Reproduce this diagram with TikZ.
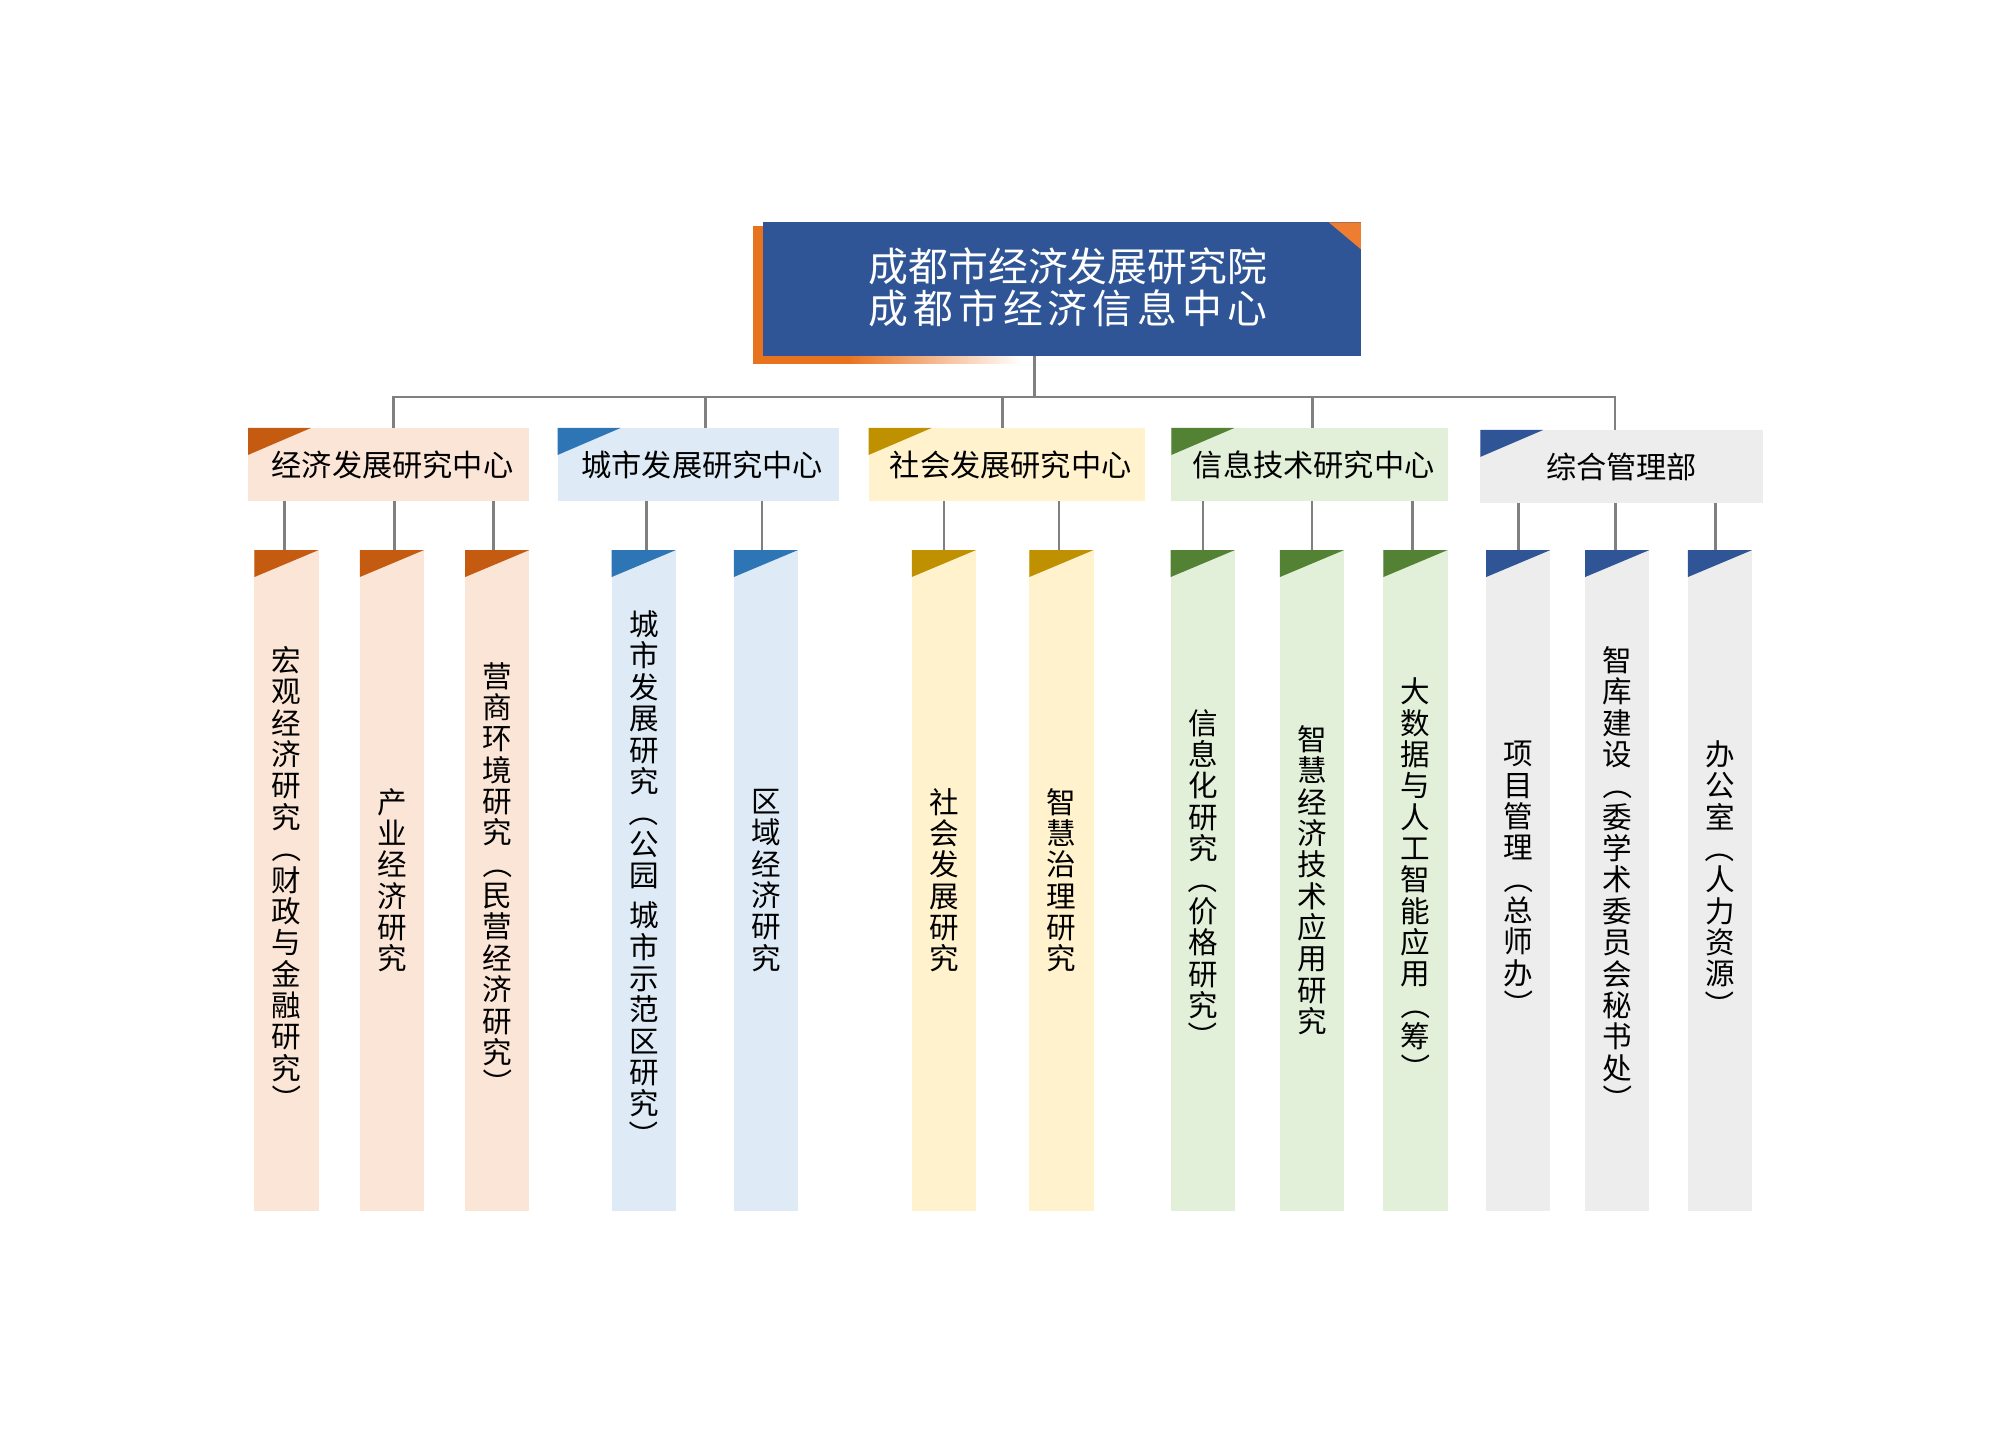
\documentclass[tikz,border=0pt]{standalone}
\usepackage{fontspec}
\usepackage{graphicx}
\newfontfamily\cjk{Noto Sans CJK SC}
\usetikzlibrary{backgrounds}

\definecolor{rootblue}{HTML}{2F5597}
\definecolor{rootorange}{HTML}{ED7D31}
\definecolor{shadoworange}{HTML}{E8731F}
\definecolor{linegray}{HTML}{808080}
\definecolor{ecofill}{HTML}{FBE5D6}
\definecolor{ecomark}{HTML}{C55A11}
\definecolor{cityfill}{HTML}{DEEBF7}
\definecolor{citymark}{HTML}{2E75B6}
\definecolor{socfill}{HTML}{FFF2CC}
\definecolor{socmark}{HTML}{BF9000}
\definecolor{infofill}{HTML}{E2F0D9}
\definecolor{infomark}{HTML}{548235}
\definecolor{admfill}{HTML}{EDEDED}
\definecolor{admmark}{HTML}{2F5597}

% vertical brackets for the stacked labels
\newcommand\vparl{\rotatebox[origin=c]{-90}{（}}
\newcommand\vparr{\rotatebox[origin=c]{-90}{）}}

\tikzset{
  conn/.style={draw=linegray, line width=2pt},
  rootbox/.style={fill=rootblue, minimum width=465pt, minimum height=104pt, inner sep=0pt,
    path picture={\fill[rootorange] (path picture bounding box.north east) -- ++(-25,0) -- ++(25,21) -- cycle;}},
  roottext/.style={text=white, inner sep=0pt, align=center, font=\cjk\fontsize{31}{33}\selectfont},
  centre/.style n args={3}{fill=#1, minimum width=#3, minimum height=57pt, inner sep=0pt,
    font=\cjk\fontsize{23.5}{26}\selectfont,
    path picture={\fill[#2] (path picture bounding box.north west) -- ++(49,0) -- ++(-49,21) -- cycle;}},
  unit/.style 2 args={fill=#1, minimum width=50pt, minimum height=514pt, inner sep=0pt, align=center,
    font=\cjk\fontsize{23}{24.4}\selectfont,
    path picture={\fill[#2] (path picture bounding box.north west) -- ++(50,0) -- ++(-50,21) -- cycle;}},
}

\begin{document}
\begin{tikzpicture}[x=1pt, y=-1pt]
\useasboundingbox (0,0) rectangle (1568,1128);

% Head office with its orange shadow
\fill[shadoworange] (586,176) rectangle (660,283);
\shade[left color=shadoworange, right color=white] (660,176) rectangle (795,283);
\node[rootbox] (root) at (826.5,225) {};
\node[roottext] (roottitle) at (831,223.5) {成都市经济发展研究院\\\makebox[10em][s]{成\hfill 都\hfill 市\hfill 经\hfill 济\hfill 信\hfill 息\hfill 中\hfill 心}};

% Centres
\node[centre={ecofill}{ecomark}{219pt}] (eco) at (302.5,361.5) {\hspace*{6pt}经济发展研究中心};
\node[centre={cityfill}{citymark}{219pt}] (city) at (543.5,361.5) {\hspace*{6pt}城市发展研究中心};
\node[centre={socfill}{socmark}{215pt}] (soc) at (783.5,361.5) {\hspace*{6pt}社会发展研究中心};
\node[centre={infofill}{infomark}{215.5pt}] (info) at (1019.3,361.5) {\hspace*{6pt}信息技术研究中心};
\node[centre={admfill}{admmark}{219.5pt}] (adm) at (1261.8,363) {综合管理部};

% Units below each centre
\node[unit={ecofill}{ecomark}] (e1) at (223,685) {宏\\观\\经\\济\\研\\究\\\vparl\\财\\政\\与\\金\\融\\研\\究\\\vparr};
\node[unit={ecofill}{ecomark}] (e2) at (305,685) {产\\业\\经\\济\\研\\究};
\node[unit={ecofill}{ecomark}] (e3) at (387,685) {营\\商\\环\\境\\研\\究\\\vparl\\民\\营\\经\\济\\研\\究\\\vparr};
\node[unit={cityfill}{citymark}] (c1) at (501,685) {城\\市\\发\\展\\研\\究\\\vparl\\公\\园\\[7pt]城\\市\\示\\范\\区\\研\\究\\\vparr};
\node[unit={cityfill}{citymark}] (c2) at (596,685) {区\\域\\经\\济\\研\\究};
\node[unit={socfill}{socmark}] (s1) at (734.5,685) {社\\会\\发\\展\\研\\究};
\node[unit={socfill}{socmark}] (s2) at (826,685) {智\\慧\\治\\理\\研\\究};
\node[unit={infofill}{infomark}] (i1) at (936,685) {信\\息\\化\\研\\究\\\vparl\\价\\格\\研\\究\\\vparr};
\node[unit={infofill}{infomark}] (i2) at (1021,685) {智\\慧\\经\\济\\技\\术\\应\\用\\研\\究};
\node[unit={infofill}{infomark}] (i3) at (1101.5,685) {大\\数\\据\\与\\人\\工\\智\\能\\应\\用\\\vparl\\筹\\\vparr};
\node[unit={admfill}{admmark}] (a1) at (1181.5,685) {项\\目\\管\\理\\\vparl\\总\\师\\办\\\vparr};
\node[unit={admfill}{admmark}] (a2) at (1258.5,685) {智\\库\\建\\设\\\vparl\\委\\学\\术\\委\\员\\会\\秘\\书\\处\\\vparr};
\node[unit={admfill}{admmark}] (a3) at (1338.5,685) {办\\公\\室\\\vparl\\人\\力\\资\\源\\\vparr};

% Connectors
\coordinate (bus) at (805,309);
\begin{pgfonlayer}{background}
\draw[conn] (bus |- root.south) -- (bus);
\draw[conn] ([xshift=3.5pt]eco.north) -- ([xshift=3.5pt]eco.north |- bus) -- ([xshift=-5pt]adm.north |- bus) -- ([xshift=-5pt]adm.north);
\foreach \n/\dx in {city/5.5,soc/-3.5,info/2}
  \draw[conn] ([xshift=\dx pt]\n.north |- bus) -- ([xshift=\dx pt]\n.north);
\foreach \p/\c/\dx in {eco/e1/-1.5,eco/e2/2,eco/e3/-3,city/c1/2,city/c2/-3,soc/s1/0,soc/s2/-2,info/i1/0,info/i2/0,info/i3/-2.5,adm/a1/0,adm/a2/-1.5,adm/a3/-3.5}
  \draw[conn] ([xshift=\dx pt]\c.north |- \p.south) -- ([xshift=\dx pt]\c.north);
\end{pgfonlayer}
\end{tikzpicture}
\end{document}
